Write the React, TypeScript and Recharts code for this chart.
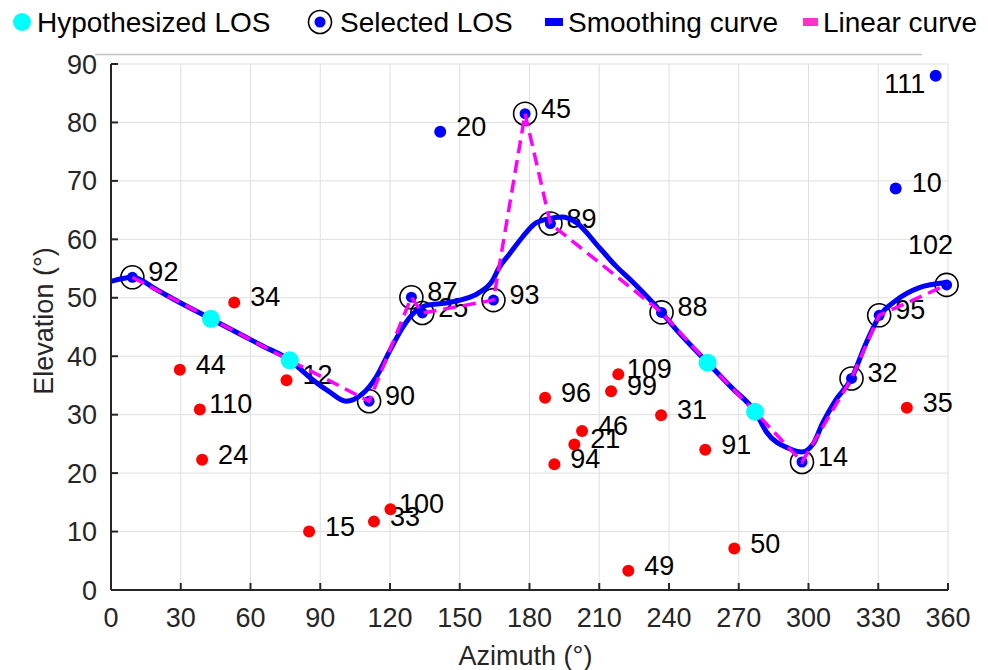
import {
  ComposedChart,
  Line,
  Scatter,
  XAxis,
  YAxis,
  CartesianGrid,
  Legend,
  Label,
} from "recharts";

const FONT = "'Liberation Sans', Arial, sans-serif";
const AXIS_COLOR = "#262626";

// Axis ticks
const AZ_TICKS = [0, 30, 60, 90, 120, 150, 180, 210, 240, 270, 300, 330, 360];
const EL_TICKS = [0, 10, 20, 30, 40, 50, 60, 70, 80, 90];

// Hypothesized LOS (cyan)
const HYPOTHESIZED = [
  { az: 43, el: 46.4 },
  { az: 76.9, el: 39.3 },
  { az: 256.6, el: 38.9 },
  { az: 277, el: 30.5 },
];

// Selected LOS (blue dot in black ring)
const SELECTED = [
  { id: 92, az: 9.2, el: 53.5 },
  { id: 90, az: 111, el: 32.3 },
  { id: 87, az: 129.2, el: 50.1 },
  { id: 25, az: 133.9, el: 47.4 },
  { id: 93, az: 164.5, el: 49.6 },
  { id: 45, az: 178.1, el: 81.5 },
  { id: 89, az: 189, el: 62.7 },
  { id: 88, az: 236.8, el: 47.5 },
  { id: 14, az: 297.2, el: 21.9 },
  { id: 32, az: 318.5, el: 36.2 },
  { id: 95, az: 330.4, el: 47 },
  { id: 102, az: 359.4, el: 52.2 },
];

// other satellites above the curve (blue)
const BLUE_SATS = [
  { id: 20, az: 141.6, el: 78.4 },
  { id: 10, az: 337.5, el: 68.7 },
  { id: 111, az: 354.7, el: 88 },
];

// satellites below the curve (red)
const RED_SATS = [
  { id: 44, az: 29.6, el: 37.7 },
  { id: 110, az: 38.2, el: 30.9 },
  { id: 24, az: 39.2, el: 22.3 },
  { id: 34, az: 53, el: 49.2 },
  { id: 12, az: 75.5, el: 35.9 },
  { id: 15, az: 85.2, el: 10 },
  { id: 33, az: 113.1, el: 11.7 },
  { id: 100, az: 120.2, el: 13.8 },
  { id: 96, az: 186.7, el: 32.9 },
  { id: 94, az: 190.7, el: 21.5 },
  { id: 21, az: 199.3, el: 24.9 },
  { id: 46, az: 202.6, el: 27.2 },
  { id: 99, az: 215.1, el: 34 },
  { id: 109, az: 218.2, el: 36.9 },
  { id: 49, az: 222.5, el: 3.3 },
  { id: 31, az: 236.6, el: 29.9 },
  { id: 91, az: 255.6, el: 24 },
  { id: 50, az: 268.1, el: 7.1 },
  { id: 35, az: 342.3, el: 31.2 },
];

// smoothing curve as [azimuth, elevation]
const SMOOTH = [
  [0, 52.8], [5, 53.3], [9.2, 53.5], [20, 51.3], [30, 49.1], [43, 46.4],
  [55, 43.9], [65, 41.8], [76.9, 39.3], [82, 37.6], [87, 35.9], [94, 33.9],
  [101, 32.3], [108, 33.5], [114, 36.4], [120, 41], [125.6, 45], [130, 47.3],
  [135.6, 48.7], [144, 49.1], [152, 49.8], [158, 50.8], [164, 52.9], [167, 55.2],
  [171.4, 57.5], [177, 60.4], [182, 62.6], [188, 63.5], [194, 63.8], [200, 62.9],
  [210, 58.6], [217, 55.5], [224.4, 52.7], [236.8, 47.5], [243, 44.6], [256.6, 38.9],
  [267, 34.6], [277, 30.5], [282, 27], [291.7, 24.2], [297, 23.6], [302, 25],
  [306, 28.5], [311.7, 32.5], [318.5, 36.2], [324.6, 42.1], [330.4, 46.8],
  [337.5, 49.5], [347.4, 51.7], [359.4, 52.6],
];

const smoothData = SMOOTH.map(([az, el]) => ({ az, el }));
// the linear curve joins selected + hypothesized points in azimuth order
const linearData = [...SELECTED, ...HYPOTHESIZED]
  .map((p) => ({ az: p.az, el: p.el }))
  .sort((a, b) => a.az - b.az);

// label offsets (text centre relative to the marker); a couple sit elsewhere
const LABEL_SHIFT: Record<number, [number, number]> = {
  111: [-31, 8],
  102: [-16, -40],
};

function labelFor(id: number, cx: number, cy: number) {
  const [dx, dy] = LABEL_SHIFT[id] ?? [31, -5];
  return (
    <text
      x={cx + dx}
      y={cy + dy}
      textAnchor="middle"
      dominantBaseline="central"
      fontSize={27}
      fontFamily={FONT}
      fill="#000"
    >
      {id}
    </text>
  );
}

const dotShape = (color: string) => (props: any) => {
  const { cx, cy, payload } = props;
  return (
    <g>
      <circle cx={cx} cy={cy} r={6} fill={color} />
      {labelFor(payload.id, cx, cy)}
    </g>
  );
};

const selectedShape = (props: any) => {
  const { cx, cy, payload } = props;
  return (
    <g>
      <circle cx={cx} cy={cy} r={5.5} fill="#0000ff" />
      <circle cx={cx} cy={cy} r={11.5} fill="none" stroke="#000" strokeWidth={1.6} />
      {labelFor(payload.id, cx, cy)}
    </g>
  );
};

const hypoShape = (props: any) => (
  <circle cx={props.cx} cy={props.cy} r={9} fill="#00ffff" />
);

const legendText: React.CSSProperties = {
  position: "absolute",
  top: 9,
  fontSize: 28,
  lineHeight: "28px",
  fontFamily: FONT,
  color: "#000",
  whiteSpace: "nowrap",
};

function LegendBox() {
  return (
    <div style={{ position: "relative", width: 988, height: 56 }}>
      <svg style={{ position: "absolute", left: 0, top: 0 }} width={988} height={56}>
        <circle cx={22} cy={22} r={9} fill="#00ffff" />
        <circle cx={320} cy={22} r={5.5} fill="#0000ff" />
        <circle cx={320} cy={22} r={11.5} fill="none" stroke="#000" strokeWidth={1.6} />
        <rect x={545} y={18} width={18} height={8} fill="#0000ff" />
        <rect x={803} y={18} width={15} height={8} fill="#ff33cc" />
        <line x1={95} x2={922} y1={54.5} y2={54.5} stroke="#c4c4c4" strokeWidth={1.5} />
      </svg>
      <span style={{ ...legendText, left: 37 }}>Hypothesized LOS</span>
      <span style={{ ...legendText, left: 340 }}>Selected LOS</span>
      <span style={{ ...legendText, left: 568 }}>Smoothing curve</span>
      <span style={{ ...legendText, left: 823 }}>Linear curve</span>
    </div>
  );
}

export default function App() {
  return (
    <div style={{ width: 988, height: 670, background: "#fff" }}>
      <style>{`body{margin:0}`}</style>
      <ComposedChart
        width={988}
        height={670}
        margin={{ top: 64, right: 40, bottom: 0, left: 0 }}
      >
        <CartesianGrid stroke="#dfdfdf" strokeWidth={1} />
        <XAxis
          dataKey="az"
          type="number"
          domain={[0, 360]}
          ticks={AZ_TICKS}
          interval={0}
          height={80}
          stroke={AXIS_COLOR}
          strokeWidth={2}
          tickSize={-7}
          tickMargin={25}
          tick={{ fill: AXIS_COLOR, fontSize: 27, fontFamily: FONT }}
        >
          <Label
            content={({ viewBox }: any) => (
              <text
                x={viewBox.x + viewBox.width / 2 - 4}
                y={viewBox.y + 75}
                textAnchor="middle"
                fontSize={27}
                fontFamily={FONT}
                fill={AXIS_COLOR}
              >
                Azimuth (°)
              </text>
            )}
          />
        </XAxis>
        <YAxis
          dataKey="el"
          type="number"
          domain={[0, 90]}
          ticks={EL_TICKS}
          interval={0}
          width={111}
          stroke={AXIS_COLOR}
          strokeWidth={2}
          tickSize={-7}
          tickMargin={21}
          tick={{ fill: AXIS_COLOR, fontSize: 27, fontFamily: FONT }}
        >
          <Label
            content={({ viewBox }: any) => {
              const x = viewBox.x + 53;
              const y = viewBox.y + viewBox.height / 2 - 6;
              return (
                <text
                  x={x}
                  y={y}
                  transform={`rotate(-90 ${x} ${y})`}
                  textAnchor="middle"
                  fontSize={27}
                  fontFamily={FONT}
                  fill={AXIS_COLOR}
                >
                  Elevation (°)
                </text>
              );
            }}
          />
        </YAxis>
        <Legend
          verticalAlign="middle"
          align="center"
          layout="horizontal"
          wrapperStyle={{ top: 0, left: 0, width: 988, height: 56 }}
          content={() => <LegendBox />}
        />
        <Scatter
          name="red"
          data={RED_SATS}
          dataKey="el"
          shape={dotShape("#ff0000")}
          isAnimationActive={false}
          zIndex={300}
        />
        <Scatter
          name="blue"
          data={BLUE_SATS}
          dataKey="el"
          shape={dotShape("#0000ff")}
          isAnimationActive={false}
          zIndex={300}
        />
        <Scatter
          name="Selected LOS"
          data={SELECTED}
          dataKey="el"
          shape={selectedShape}
          isAnimationActive={false}
          zIndex={310}
        />
        <Line
          name="Smoothing curve"
          data={smoothData}
          dataKey="el"
          type="monotone"
          stroke="#0000ff"
          strokeWidth={5}
          dot={false}
          activeDot={false}
          isAnimationActive={false}
          zIndex={400}
        />
        <Line
          name="Linear curve"
          data={linearData}
          dataKey="el"
          type="linear"
          stroke="#ff00ff"
          strokeWidth={3.5}
          strokeDasharray="13 7"
          dot={false}
          activeDot={false}
          isAnimationActive={false}
          zIndex={450}
        />
        <Scatter
          name="Hypothesized LOS"
          data={HYPOTHESIZED}
          dataKey="el"
          shape={hypoShape}
          isAnimationActive={false}
          zIndex={600}
        />
      </ComposedChart>
    </div>
  );
}
